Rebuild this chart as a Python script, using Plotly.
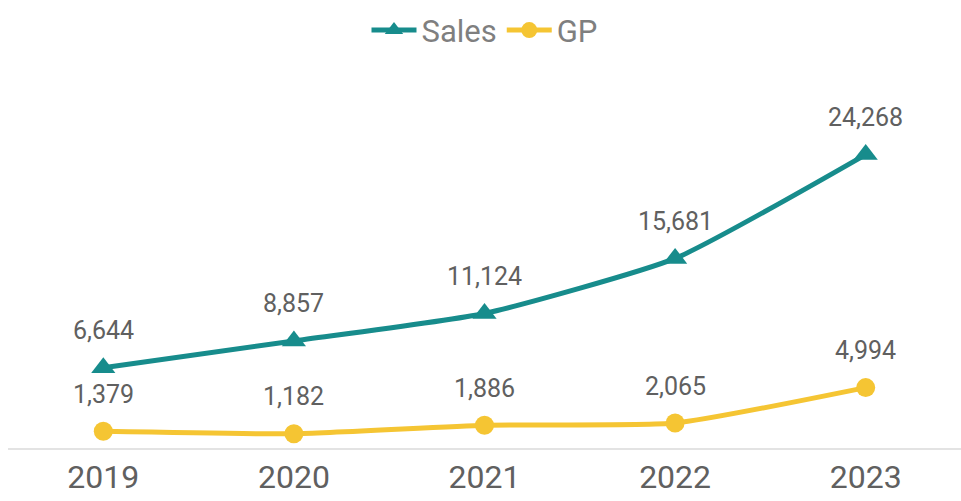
import plotly.graph_objects as go

years = ["2019", "2020", "2021", "2022", "2023"]
sales = [6644, 8857, 11124, 15681, 24268]
gp = [1379, 1182, 1886, 2065, 4994]

teal = "#178C8C"
yellow = "#F5C533"
txt = "#606060"

fig = go.Figure()
fig.add_trace(go.Scatter(
    x=years, y=sales, name="Sales", mode="lines+markers",
    line=dict(color=teal, width=5, shape="spline", smoothing=0.5),
    marker=dict(symbol="triangle-up", size=21, color=teal),
))
fig.add_trace(go.Scatter(
    x=years, y=gp, name="GP", mode="lines+markers",
    line=dict(color=yellow, width=5, shape="spline", smoothing=0.5),
    marker=dict(symbol="circle", size=19, color=yellow),
))

for series in (sales, gp):
    for i, yv in enumerate(series):
        fig.add_annotation(x=i, y=yv, xref="x", yref="y", text=f"{yv:,}",
                           showarrow=False, yshift=37,
                           font=dict(size=25, color=txt))

fig.update_layout(
    width=961, height=501,
    margin=dict(l=8, r=0, t=100, b=53),
    paper_bgcolor="white", plot_bgcolor="white",
    font=dict(family="Roboto, Arial, sans-serif", color=txt),
    showlegend=True,
    legend=dict(orientation="h", x=0.5, xanchor="center", y=1.2, yanchor="middle",
                font=dict(size=31, color="#7F7F7F"), itemwidth=45),
    xaxis=dict(type="category", range=[-0.5, 4.5], showgrid=False, zeroline=False,
               showline=True, linecolor="#E3E3E3", linewidth=2,
               ticks="", tickfont=dict(size=32, color=txt)),
    yaxis=dict(range=[0, 28780], visible=False, showgrid=False, zeroline=False),
)

fig.write_html("out.html")
